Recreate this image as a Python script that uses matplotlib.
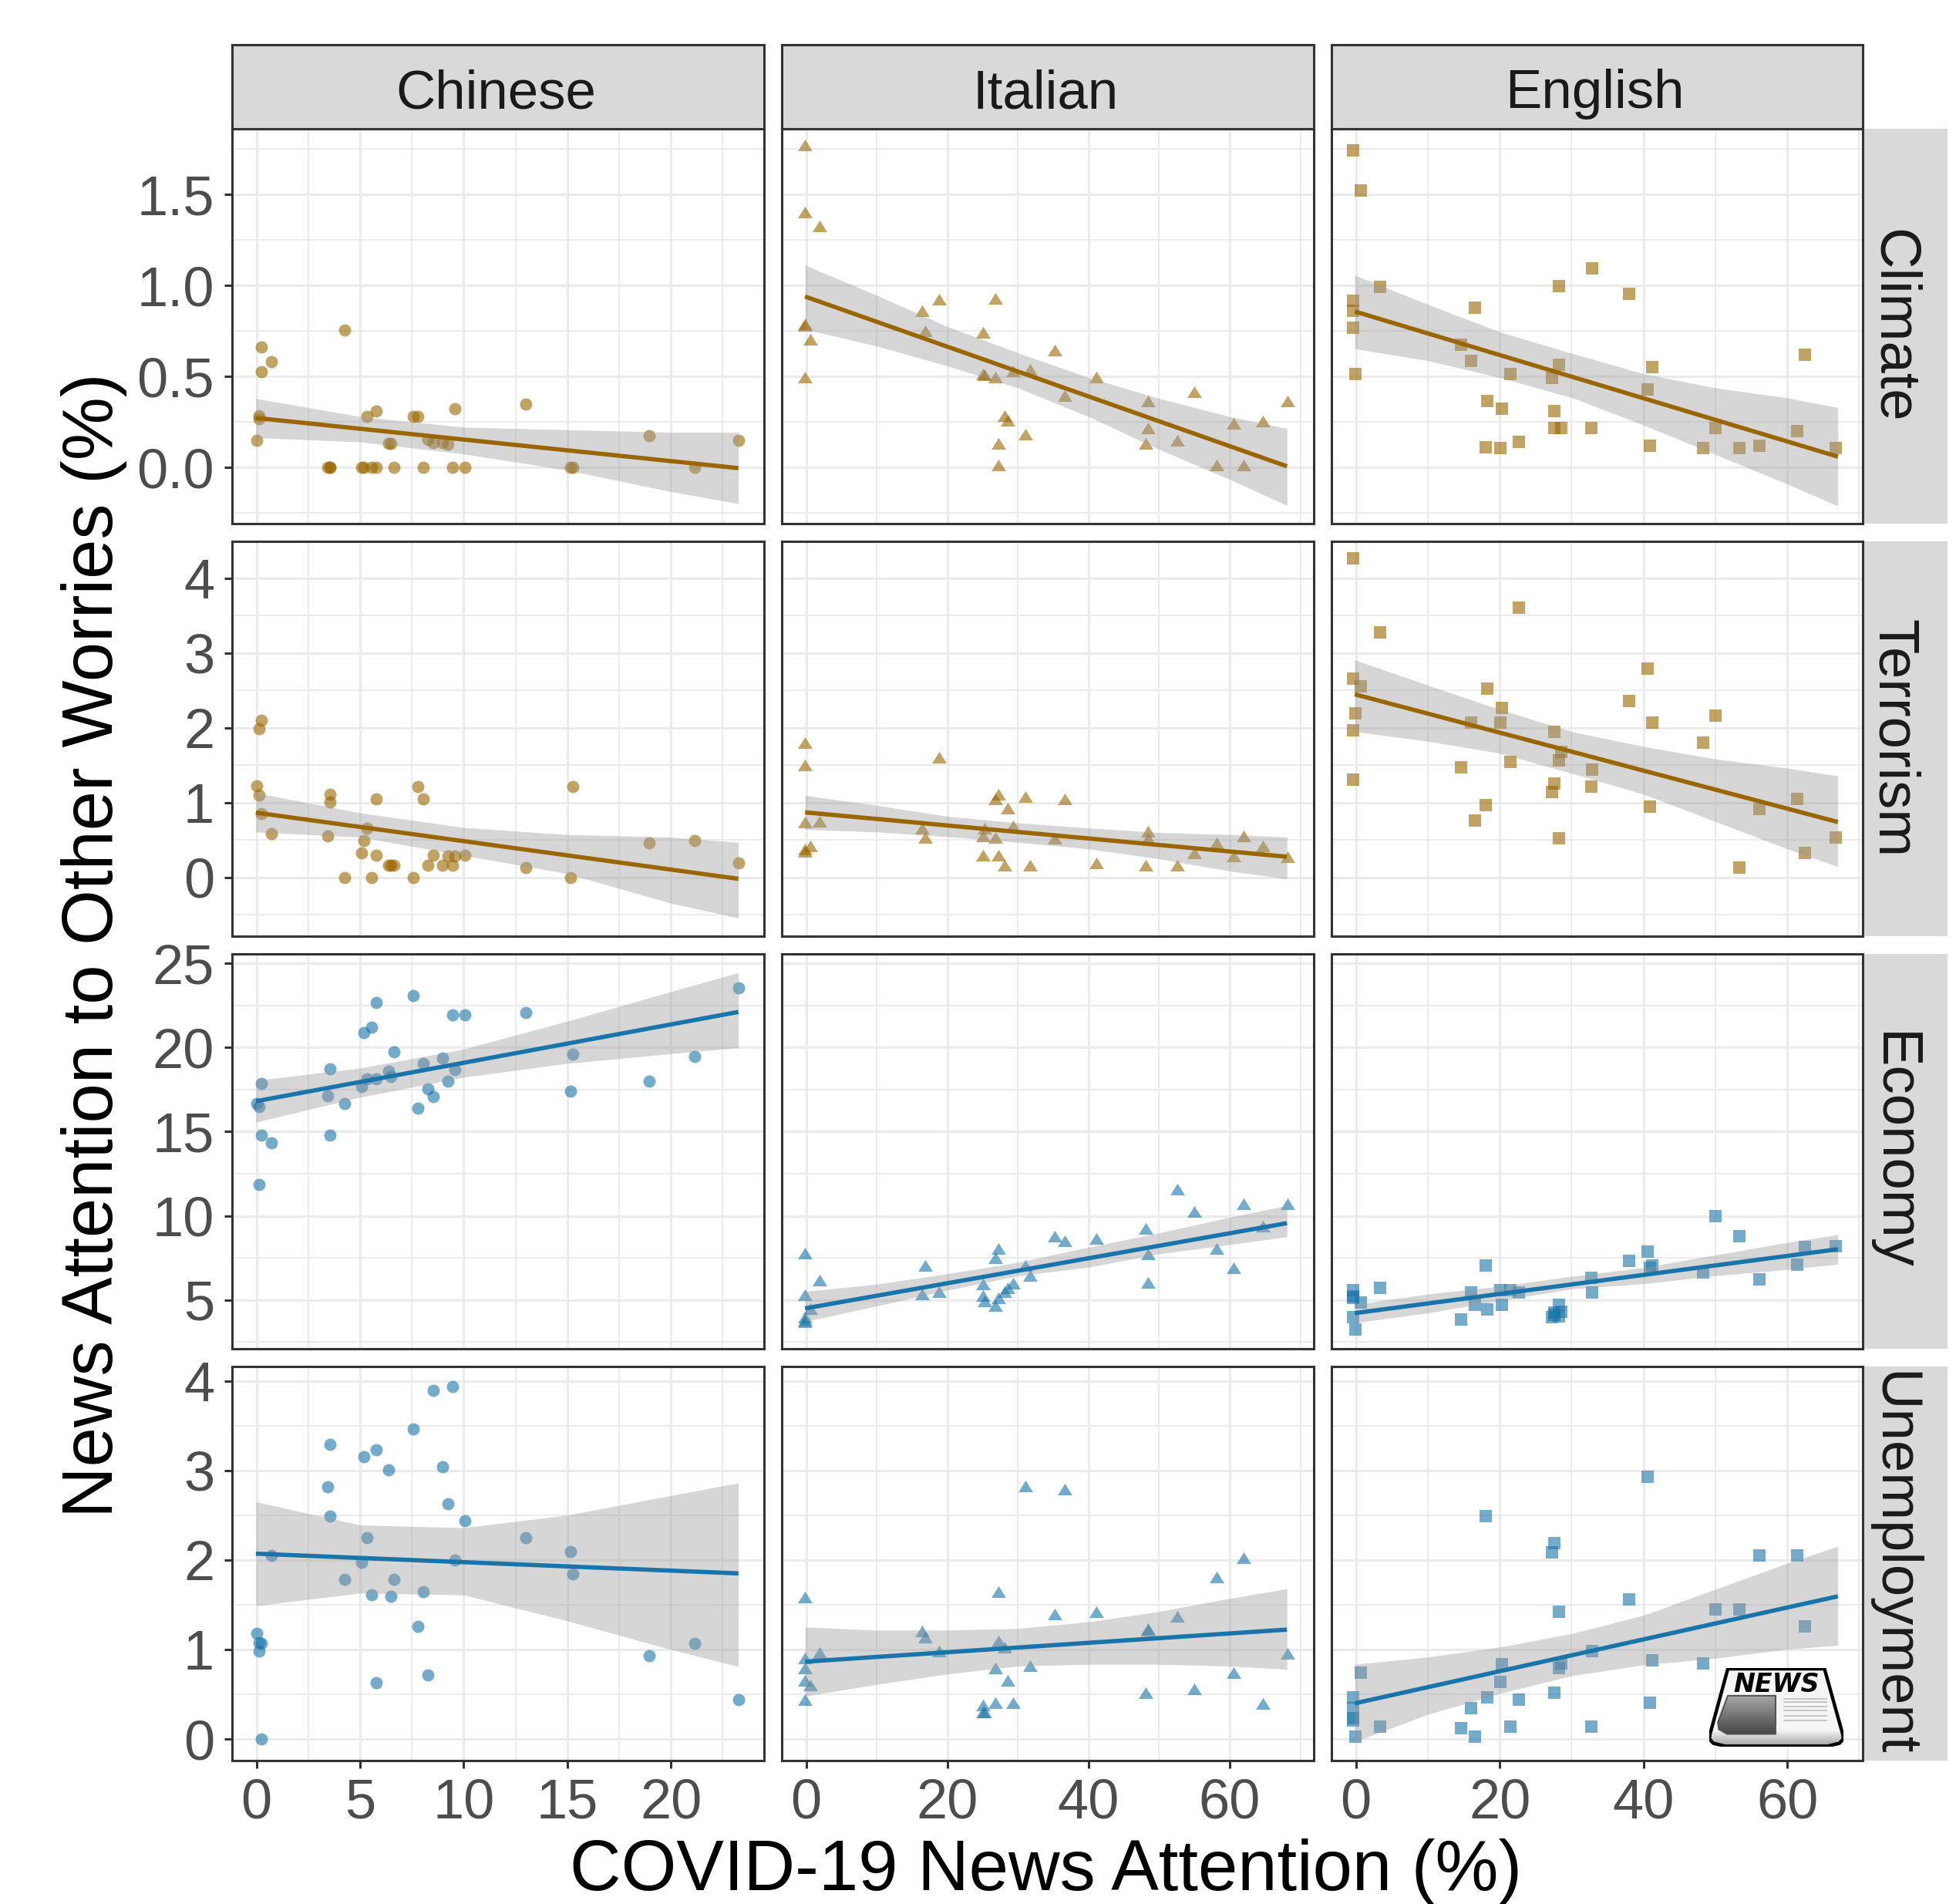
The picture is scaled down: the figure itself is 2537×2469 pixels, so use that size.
import numpy as np
import matplotlib
matplotlib.use('Agg')
import matplotlib.pyplot as plt
from matplotlib.patches import Polygon
from matplotlib.ticker import FixedLocator

plt.rcParams['font.family'] = ['Liberation Sans', 'DejaVu Sans']

W, H = 2537, 2469

languages = ['Chinese', 'Italian', 'English']
topics = ['Climate', 'Terrorism', 'Economy', 'Unemployment']

# x values are the same in every row of a column
chinese_x = [0, 0.14, 0.14, 0.24, 0.24, 0.72, 3.45, 3.55, 3.55, 4.25, 5.07, 5.2, 5.32, 5.56, 5.79, 5.79, 6.38,
             6.5, 6.64, 7.56, 7.8, 8.05, 8.28, 8.53, 8.98, 9.23, 9.45, 9.56, 10.05, 13.0, 15.15, 15.26, 18.94,
             21.16, 23.29]
italian_x = [-0.2, -0.2, -0.2, -0.2, -0.2, 0.55, 1.85, 16.47, 16.83, 18.88, 25.09, 25.09, 25.29, 26.84, 26.84,
             27.24, 27.24, 28.09, 28.54, 29.34, 31.04, 31.75, 35.2, 36.65, 41.1, 48.12, 48.42, 48.42, 52.53,
             54.98, 58.14, 60.49, 61.94, 64.65, 68.16]
english_x = [-0.34, -0.34, -0.34, -0.34, -0.05, 0.64, 3.39, 14.61, 16.04, 16.53, 18.05, 18.25, 20.12, 20.27,
             21.5, 22.63, 27.25, 27.6, 27.6, 28.23, 28.23, 28.58, 32.76, 32.91, 37.97, 40.53, 40.88, 41.17,
             48.35, 50.07, 53.37, 56.17, 61.34, 62.42, 66.8]

climate_chinese = [0.149, 0.287, 0.268, 0.663, 0.527, 0.581, 0, 0, 0, 0.756, 0, 0, 0.283, 0, 0.311, 0, 0.133,
                   0.133, 0, 0.283, 0.283, 0, 0.154, 0.136, 0.136, 0.129, 0, 0.323, 0, 0.349, 0, 0, 0.175, 0,
                   0.149]
terrorism_chinese = [1.22, 1.99, 1.10, 2.10, 0.85, 0.58, 0.55, 1.11, 1.01, 0, 0.33, 0.49, 0.66, 0, 1.05, 0.30,
                     0.16, 0.16, 0.16, 0, 1.21, 1.05, 0.16, 0.30, 0.16, 0.29, 0.16, 0.29, 0.30, 0.13, 0, 1.21,
                     0.46, 0.49, 0.19]
economy_chinese = [16.66, 16.5, 11.85, 17.85, 14.8, 14.33, 17.12, 18.75, 14.8, 16.66, 17.67, 20.9, 18.15, 21.2,
                   22.67, 18.15, 18.6, 18.27, 19.74, 23.1, 16.4, 19.08, 17.56, 17.09, 19.36, 17.99, 21.95,
                   18.67, 21.95, 22.09, 17.4, 19.6, 17.99, 19.47, 23.57]
unemployment_chinese = [1.18, 1.08, 0.98, 1.07, 0.0, 2.05, 2.82, 3.29, 2.49, 1.78, 1.97, 3.15, 2.25, 1.61, 3.23,
                        0.63, 3.01, 1.59, 1.78, 3.46, 1.26, 1.65, 0.72, 3.89, 3.04, 2.63, 3.94, 2.0, 2.44, 2.25,
                        2.09, 1.84, 0.93, 1.07, 0.44]

climate_italian = [1.772, 1.406, 0.789, 0.782, 0.498, 0.707, 1.326, 0.861, 0.750, 0.924, 0.743, 0.514, 0.509,
                   0.931, 0.498, 0.132, 0.014, 0.284, 0.261, 0.531, 0.182, 0.538, 0.645, 0.397, 0.498, 0.132,
                   0.366, 0.218, 0.151, 0.416, 0.014, 0.244, 0.014, 0.255, 0.366]
terrorism_italian = [1.80, 1.50, 0.735, 0.38, 0.345, 0.415, 0.746, 0.659, 0.537, 1.606, 0.554, 0.293, 0.66, 1.05,
                     0.537, 1.11, 0.293, 0.16, 0.92, 0.683, 1.077, 0.16, 0.519, 1.05, 0.188, 0.16, 0.617, 0.519,
                     0.16, 0.321, 0.46, 0.282, 0.554, 0.415, 0.275]
economy_italian = [7.78, 5.31, 3.95, 3.79, 3.71, 4.49, 6.19, 5.34, 7.05, 5.50, 5.96, 5.26, 4.95, 7.51, 4.64, 8.05,
                   5.11, 5.5, 5.73, 6.01, 7.05, 6.43, 8.78, 8.52, 8.64, 9.25, 7.74, 6.02, 11.57, 10.27, 8.05,
                   6.89, 10.72, 9.37, 10.72]
unemployment_italian = [1.585, 0.908, 0.791, 0.655, 0.439, 0.602, 0.969, 1.207, 1.135, 0.983, 0.378, 0.303, 0.303,
                        0.407, 0.794, 1.647, 1.097, 1.027, 0.657, 0.407, 2.825, 0.820, 1.396, 2.79, 1.423, 0.518,
                        1.233, 1.213, 1.373, 0.561, 1.809, 0.742, 2.025, 0.393, 0.957]

climate_english = [1.742, 0.918, 0.861, 0.768, 0.515, 1.525, 0.993, 0.674, 0.588, 0.878, 0.113, 0.366, 0.108, 0.323,
                   0.515, 0.142, 0.491, 0.311, 0.218, 0.999, 0.567, 0.218, 0.218, 1.093, 0.953, 0.430, 0.119,
                   0.552, 0.108, 0.218, 0.108, 0.119, 0.201, 0.621, 0.108]
terrorism_english = [4.265, 2.655, 1.965, 1.307, 2.192, 2.551, 3.275, 1.47, 2.07, 0.763, 0.962, 2.523, 2.07, 2.261,
                     1.54, 3.603, 1.139, 1.948, 1.258, 1.561, 0.523, 1.679, 1.21, 1.443, 2.355, 2.791, 0.944,
                     2.07, 1.801, 2.164, 0.129, 0.909, 1.049, 0.328, 0.537]
economy_english = [5.57, 5.19, 5.11, 3.95, 3.23, 4.84, 5.71, 3.84, 5.42, 4.72, 7.05, 4.44, 5.57, 4.72, 5.57, 5.42,
                   3.98, 4.26, 4.10, 4.69, 4.02, 4.29, 6.3, 5.42, 7.33, 7.85, 6.89, 7.05, 6.63, 9.98, 8.78, 6.24,
                   7.08, 8.13, 8.21]
unemployment_english = [0.468, 0.349, 0.233, 0.204, 0.029, 0.742, 0.14, 0.122, 0.343, 0.029, 2.487, 0.468, 0.64,
                        0.838, 0.14, 0.442, 2.086, 2.188, 0.518, 1.423, 0.794, 0.844, 0.14, 0.98, 1.562, 2.93,
                        0.407, 0.881, 0.844, 1.449, 1.449, 2.051, 2.051, 1.26, 0.11]

chinese_band_x = [-0.03, 5, 10, 15, 20, 23.26]
italian_band_x = [-0.15, 10, 20, 30, 40, 50, 60, 68.1]
english_band_x = [-0.15, 10, 20, 30, 40, 50, 60, 67.04]

climate_chinese_hi = [0.380, 0.280, 0.222, 0.208, 0.194, 0.194]
climate_chinese_lo = [0.165, 0.141, 0.075, -0.014, -0.132, -0.198]
terrorism_chinese_hi = [1.129, 0.861, 0.666, 0.571, 0.537, 0.467]
terrorism_chinese_lo = [0.606, 0.537, 0.293, 0.049, -0.345, -0.544]
economy_chinese_hi = [18.05, 18.78, 19.91, 21.57, 23.33, 24.46]
economy_chinese_lo = [15.57, 17.05, 18.24, 19.06, 19.64, 19.99]
unemployment_chinese_hi = [2.65, 2.39, 2.36, 2.50, 2.72, 2.86]
unemployment_chinese_lo = [1.49, 1.63, 1.61, 1.32, 1.00, 0.81]

climate_italian_hi = [1.112, 0.947, 0.775, 0.631, 0.495, 0.380, 0.280, 0.215]
climate_italian_lo = [0.760, 0.668, 0.559, 0.438, 0.280, 0.100, -0.065, -0.208]
terrorism_italian_hi = [1.094, 0.962, 0.815, 0.728, 0.659, 0.599, 0.571, 0.537]
terrorism_italian_lo = [0.641, 0.606, 0.544, 0.467, 0.380, 0.247, 0.084, -0.021]
economy_italian_hi = [5.5, 5.93, 6.55, 7.23, 8.13, 8.98, 9.91, 10.61]
economy_italian_lo = [3.71, 4.64, 5.57, 6.43, 6.94, 7.74, 8.29, 8.75]
unemployment_italian_hi = [1.251, 1.216, 1.216, 1.236, 1.309, 1.425, 1.571, 1.679]
unemployment_italian_lo = [0.48, 0.611, 0.727, 0.815, 0.835, 0.835, 0.815, 0.780]

climate_english_hi = [1.057, 0.897, 0.746, 0.628, 0.516, 0.438, 0.383, 0.330]
climate_english_lo = [0.653, 0.588, 0.495, 0.385, 0.234, 0.072, -0.090, -0.211]
terrorism_english_hi = [2.906, 2.568, 2.244, 1.948, 1.749, 1.582, 1.460, 1.355]
terrorism_english_lo = [1.948, 1.819, 1.659, 1.390, 1.112, 0.746, 0.380, 0.143]
economy_english_hi = [4.72, 5.34, 5.81, 6.40, 6.92, 7.67, 8.41, 8.88]
economy_english_lo = [3.64, 4.22, 4.95, 5.65, 5.96, 6.43, 6.81, 7.12]
unemployment_english_hi = [0.835, 0.916, 1.027, 1.178, 1.382, 1.673, 1.964, 2.153]
unemployment_english_lo = [-0.029, 0.276, 0.509, 0.707, 0.829, 0.902, 1.004, 1.047]

# fitted line, y at the first and last band x
fit_lines = {
    'Climate': [[0.273, -0.003], [0.94, 0.007], [0.858, 0.06]],
    'Terrorism': [[0.864, -0.02], [0.868, 0.275], [2.446, 0.739]],
    'Economy': [[16.81, 22.12], [4.49, 9.56], [4.21, 8.01]],
    'Unemployment': [[2.07, 1.85], [0.864, 1.222], [0.399, 1.594]],
}

xs = [chinese_x, italian_x, english_x]
band_xs = [chinese_band_x, italian_band_x, english_band_x]
ys = {
    'Climate': [climate_chinese, climate_italian, climate_english],
    'Terrorism': [terrorism_chinese, terrorism_italian, terrorism_english],
    'Economy': [economy_chinese, economy_italian, economy_english],
    'Unemployment': [unemployment_chinese, unemployment_italian, unemployment_english],
}
band_hi = {
    'Climate': [climate_chinese_hi, climate_italian_hi, climate_english_hi],
    'Terrorism': [terrorism_chinese_hi, terrorism_italian_hi, terrorism_english_hi],
    'Economy': [economy_chinese_hi, economy_italian_hi, economy_english_hi],
    'Unemployment': [unemployment_chinese_hi, unemployment_italian_hi, unemployment_english_hi],
}
band_lo = {
    'Climate': [climate_chinese_lo, climate_italian_lo, climate_english_lo],
    'Terrorism': [terrorism_chinese_lo, terrorism_italian_lo, terrorism_english_lo],
    'Economy': [economy_chinese_lo, economy_italian_lo, economy_english_lo],
    'Unemployment': [unemployment_chinese_lo, unemployment_italian_lo, unemployment_english_lo],
}

# axis settings
col_px = [(301, 991), (1014, 1704), (1727, 2416)]
row_px = [(167, 679), (702, 1214), (1237, 1749), (1772, 2283)]
col_lims = [(-1.18, 24.5), (-3.45, 71.9), (-3.39, 70.5)]
row_lims = [(-0.308, 1.862), (-0.787, 4.49), (2.09, 25.57), (-0.24, 4.16)]
col_ticks = [[0, 5, 10, 15, 20], [0, 20, 40, 60], [0, 20, 40, 60]]
col_minor = [[2.5, 7.5, 12.5, 17.5, 22.5], [10, 30, 50, 70], [10, 30, 50, 70]]
row_ticks = [[0, 0.5, 1, 1.5], [0, 1, 2, 3, 4], [5, 10, 15, 20, 25], [0, 1, 2, 3, 4]]
row_labels = [['0.0', '0.5', '1.0', '1.5'], ['0', '1', '2', '3', '4'], ['5', '10', '15', '20', '25'],
              ['0', '1', '2', '3', '4']]
row_minor = [[-0.25, 0.25, 0.75, 1.25, 1.75], [-0.5, 0.5, 1.5, 2.5, 3.5], [2.5, 7.5, 12.5, 17.5, 22.5],
             [0.5, 1.5, 2.5, 3.5]]

row_color = ['#996600', '#996600', '#1874A9', '#1874A9']
tri = [(-1, -0.8), (1, -0.8), (0, 0.8)]
col_marker = ['o', tri, 's']
col_size = [132, 187, 132]
dark = '#333333'
border = 2.2


def add_axes_px(x0, y0, x1, y1, **kw):
    # pixel box, y counted from the top of the image
    return fig.add_axes([x0 / W, 1 - y1 / H, (x1 - x0) / W, (y1 - y0) / H], **kw)


fig = plt.figure(figsize=(W / 100, H / 100), dpi=100, facecolor='white')

for r, topic in enumerate(topics):
    for c, lang in enumerate(languages):
        ax = add_axes_px(col_px[c][0], row_px[r][0], col_px[c][1], row_px[r][1])
        ax.set_axisbelow(True)
        ax.scatter(xs[c], ys[topic][c], marker=col_marker[c], s=col_size[c], color=row_color[r],
                   alpha=0.6, linewidths=0, zorder=2)
        ax.fill_between(band_xs[c], band_lo[topic][c], band_hi[topic][c], color='#999999', alpha=0.4,
                        linewidth=0, zorder=3)
        ax.plot([band_xs[c][0], band_xs[c][-1]], fit_lines[topic][c], color=row_color[r], lw=4,
                solid_capstyle='butt', zorder=4)

        ax.set_xlim(col_lims[c])
        ax.set_ylim(row_lims[r])
        ax.xaxis.set_major_locator(FixedLocator(col_ticks[c]))
        ax.xaxis.set_minor_locator(FixedLocator(col_minor[c]))
        ax.yaxis.set_major_locator(FixedLocator(row_ticks[r]))
        ax.yaxis.set_minor_locator(FixedLocator(row_minor[r]))
        ax.grid(which='major', color='#EBEBEB', lw=2.2)
        ax.grid(which='minor', color='#EBEBEB', lw=1.5)
        ax.tick_params(which='minor', length=0)
        ax.tick_params(which='major', length=7.5, width=2.2, color=dark, labelcolor='#4D4D4D',
                       labelsize=52, pad=9)
        if r == 3:
            ax.set_xticklabels([str(t) for t in col_ticks[c]])
        else:
            ax.tick_params(axis='x', which='major', bottom=False, labelbottom=False)
        if c == 0:
            ax.set_yticklabels(row_labels[r])
        else:
            ax.tick_params(axis='y', which='major', left=False, labelleft=False)
        for s in ax.spines.values():
            s.set_color(dark)
            s.set_linewidth(border)
            s.set_zorder(6)

# top strips
for c, lang in enumerate(languages):
    ax = add_axes_px(col_px[c][0], 58, col_px[c][1], 167, facecolor='#D9D9D9', xticks=[], yticks=[])
    ax.text(0.496, 0.41, lang, transform=ax.transAxes, ha='center', va='center', fontsize=51, color='#1A1A1A')
    for s in ax.spines.values():
        s.set_color(dark)
        s.set_linewidth(border)

# side strips
for r, topic in enumerate(topics):
    ax = add_axes_px(2416, row_px[r][0], 2526, row_px[r][1], facecolor='#D9D9D9', xticks=[], yticks=[])
    ax.text(0.355, 0.5, topic, transform=ax.transAxes, ha='center', va='center', rotation=-90, fontsize=53.5,
            color='#1A1A1A')
    for s in ax.spines.values():
        s.set_visible(False)
    ax.spines['left'].set_visible(True)
    ax.spines['left'].set_color(dark)
    ax.spines['left'].set_linewidth(border)

fig.text(1357 / W, 1 - 2451 / H, 'COVID-19 News Attention (%)', ha='center', va='baseline', fontsize=66.4,
         color='black')
fig.text(122 / W, 1 - 1226 / H, 'News Attention to Other Worries (%)', ha='center', va='center', rotation=90,
         fontsize=66.4, color='black', rotation_mode='anchor')

# newspaper icon in the last panel
icon = add_axes_px(2217, 2163, 2391, 2265)
icon.set_xlim(0, 340)
icon.set_ylim(298, 0)
icon.axis('off')
icon.patch.set_alpha(0)
outline = [(47, 3), (292, 3), (338, 250), (340, 268), (330, 285), (300, 296), (40, 296), (10, 285), (0, 268),
           (2, 250)]
body = Polygon(outline, closed=True, facecolor='none', edgecolor='black', lw=3.2, joinstyle='round', zorder=4)
icon.add_patch(body)
shade = np.concatenate([np.full(235, 0.96), np.linspace(0.96, 0.62, 63)]).reshape(-1, 1)
im = icon.imshow(shade, cmap='gray', vmin=0, vmax=1, extent=(0, 340, 298, 0), aspect='auto', zorder=1)
im.set_clip_path(Polygon(outline, closed=True, transform=icon.transData))
photo = [(47, 105), (168, 105), (168, 250), (45, 250), (24, 232), (22, 205)]
photo_patch = Polygon(photo, closed=True, facecolor='none', edgecolor='#555555', lw=1.5, zorder=3)
icon.add_patch(photo_patch)
photo_im = icon.imshow(np.linspace(0.65, 0.27, 50).reshape(-1, 1), cmap='gray', vmin=0, vmax=1,
                       extent=(20, 170, 250, 105), aspect='auto', zorder=2)
photo_im.set_clip_path(Polygon(photo, closed=True, transform=icon.transData))
icon.set_xlim(0, 340)
icon.set_ylim(298, 0)
for ly in [116, 130, 145, 162, 180, 198]:
    icon.plot([190, 297], [ly, ly], color='#BDBDBD', lw=1.2, zorder=3)
icon.text(170, 63, 'NEWS', ha='center', va='center', fontsize=24, fontweight='bold', fontstyle='italic',
          family='DejaVu Sans', color='black', zorder=5)

fig.savefig('out.png', dpi=100, facecolor='white')
